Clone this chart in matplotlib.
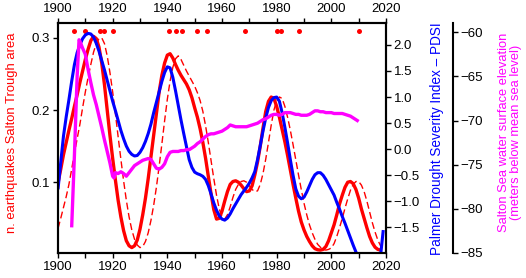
import matplotlib
matplotlib.use("Agg")
import matplotlib.pyplot as plt
from matplotlib.ticker import FixedLocator, FuncFormatter

plt.rcParams['font.family'] = ['Liberation Sans', 'DejaVu Sans']

RED = '#ff0000'
BLUE = '#0000ff'
MAG = '#ff00ff'

# --- red solid: earthquake-area index ---
eq_years = list(range(1900, 2019))
eq_vals = [0.099, 0.118, 0.138, 0.155, 0.172, 0.188, 0.205, 0.221, 0.238, 0.254,
           0.270, 0.284, 0.296, 0.302, 0.299, 0.287, 0.265, 0.235, 0.200, 0.165,
           0.133, 0.103, 0.075, 0.052, 0.033, 0.019, 0.012, 0.0095, 0.012, 0.020,
           0.035, 0.055, 0.078, 0.105, 0.135, 0.165, 0.195, 0.225, 0.248, 0.265,
           0.276, 0.278, 0.272, 0.263, 0.255, 0.248, 0.242, 0.236, 0.228, 0.217,
           0.203, 0.190, 0.174, 0.155, 0.133, 0.108, 0.084, 0.062, 0.049, 0.050,
           0.060, 0.074, 0.087, 0.097, 0.101, 0.102, 0.100, 0.096, 0.091, 0.087,
           0.088, 0.095, 0.110, 0.128, 0.150, 0.175, 0.198, 0.212, 0.218, 0.216,
           0.205, 0.190, 0.173, 0.156, 0.137, 0.117, 0.097, 0.078, 0.060, 0.045,
           0.034, 0.025, 0.018, 0.012, 0.008, 0.0065, 0.006, 0.007, 0.011, 0.019,
           0.030, 0.041, 0.055, 0.070, 0.082, 0.093, 0.100, 0.101, 0.098, 0.090,
           0.078, 0.063, 0.050, 0.037, 0.025, 0.016, 0.010, 0.007, 0.006]

# --- red dashed: lagged index ---
lag_years = list(range(1900, 2021))
lag_vals = [0.036, 0.050, 0.065, 0.080, 0.097, 0.118, 0.140, 0.160, 0.180, 0.203,
            0.225, 0.245, 0.263, 0.280, 0.292, 0.299, 0.300, 0.292, 0.275, 0.252,
            0.225, 0.195, 0.163, 0.132, 0.102, 0.075, 0.052, 0.034, 0.021, 0.013,
            0.0095, 0.011, 0.018, 0.030, 0.047, 0.068, 0.093, 0.122, 0.153, 0.185,
            0.215, 0.240, 0.259, 0.271, 0.275, 0.270, 0.262, 0.254, 0.247, 0.240,
            0.233, 0.224, 0.213, 0.198, 0.178, 0.155, 0.130, 0.105, 0.082, 0.063,
            0.052, 0.049, 0.055, 0.066, 0.079, 0.090, 0.097, 0.101, 0.102, 0.100,
            0.095, 0.090, 0.087, 0.088, 0.097, 0.112, 0.132, 0.155, 0.179, 0.200,
            0.213, 0.218, 0.216, 0.205, 0.190, 0.172, 0.152, 0.131, 0.110, 0.090,
            0.071, 0.055, 0.041, 0.030, 0.021, 0.014, 0.010, 0.007, 0.006, 0.007,
            0.009, 0.015, 0.025, 0.037, 0.050, 0.064, 0.077, 0.089, 0.097, 0.101,
            0.101, 0.096, 0.087, 0.074, 0.059, 0.044, 0.031, 0.020, 0.012, 0.008,
            0.006]

# --- blue: PDSI ---
pdsi_years = list(range(1900, 2011)) + [2012, 2014, 2016, 2017, 2018, 2019]
pdsi_vals = [-0.77, -0.25, 0.25, 0.62, 0.95, 1.30, 1.62, 1.85, 2.00, 2.12,
             2.19, 2.22, 2.21, 2.15, 2.03, 1.88, 1.70, 1.52, 1.32, 1.12,
             0.92, 0.74, 0.55, 0.36, 0.20, 0.06, -0.04, -0.10, -0.13, -0.12,
             -0.06, 0.03, 0.15, 0.30, 0.48, 0.70, 0.90, 1.10, 1.30, 1.47,
             1.58, 1.56, 1.38, 1.12, 0.84, 0.56, 0.30, 0.05, -0.20, -0.35,
             -0.44, -0.47, -0.49, -0.52, -0.58, -0.70, -0.86, -1.03, -1.17, -1.28,
             -1.34, -1.36, -1.32, -1.24, -1.14, -1.05, -0.96, -0.87, -0.80, -0.73,
             -0.65, -0.55, -0.43, -0.20, 0.07, 0.35, 0.60, 0.80, 0.93, 0.99,
             1.00, 0.92, 0.70, 0.42, 0.12, -0.20, -0.50, -0.76, -0.90, -0.95,
             -0.92, -0.82, -0.70, -0.58, -0.49, -0.45, -0.45, -0.50, -0.58, -0.68,
             -0.78, -0.88, -1.02, -1.15, -1.29, -1.42, -1.56, -1.70, -1.84, -1.97,
             -2.10, -2.35, -2.50, -2.45, -2.30, -2.05, -1.55]

# --- magenta: Salton Sea elevation ---
sea_years = [1905, 1906, 1907, 1907.7, 1908, 1909, 1910, 1911, 1912, 1913, 1914,
             1915, 1916, 1917, 1918, 1919, 1920, 1920.5] + list(range(1921, 2011))
sea_vals = [-82.1, -74.0, -65.0, -60.85, -61.0, -61.8, -62.5, -64.2, -65.7, -67.1, -68.2,
            -69.5, -70.8, -72.2, -73.5, -74.8, -76.3, -76.5,
            -75.9, -76.0, -75.8, -76.0, -76.3, -75.9, -75.5, -75.1, -74.9,
            -74.7, -74.5, -74.4, -74.3, -74.4, -74.9, -75.4, -75.5, -75.3, -74.9,
            -74.1, -73.6, -73.5, -73.5, -73.5, -73.4, -73.4, -73.3, -73.3, -73.1,
            -72.9, -72.6, -72.4, -72.1, -71.8, -71.6, -71.5, -71.5, -71.4, -71.3,
            -71.2, -71.0, -70.8, -70.5, -70.6, -70.7, -70.7, -70.7, -70.7, -70.7,
            -70.6, -70.5, -70.4, -70.3, -70.1, -69.9, -69.8, -69.6, -69.4, -69.3,
            -69.3, -69.4, -69.3, -69.1, -69.1, -69.1, -69.2, -69.3, -69.3, -69.4,
            -69.4, -69.4, -69.3, -69.1, -68.9, -68.9, -69.0, -69.0, -69.1, -69.1,
            -69.1, -69.2, -69.2, -69.2, -69.2, -69.3, -69.4, -69.5, -69.7, -69.9,
            -70.1]

# --- earthquake events (dots) ---
event_years = [1906, 1910, 1915.5, 1917, 1920, 1940.5, 1943, 1945.5, 1951, 1954.5,
               1968.5, 1980, 1981.5, 1988, 2010]
event_level = 0.309

xticks = [1900, 1910, 1920, 1930, 1940, 1950, 1960, 1970, 1980, 1990, 2000, 2010, 2020]
pdsi_ticks = [-1.5, -1.0, -0.5, 0.0, 0.5, 1.0, 1.5, 2.0]
eq_ticks = [0.1, 0.2, 0.3]
sea_ticks = [-85, -80, -75, -70, -65, -60]

FS = 9.5
W, H = 526, 278
fig = plt.figure(figsize=(W/100, H/100), dpi=100)
ax = fig.add_axes([58/W, 1-253/H, (386-58)/W, (253-23)/H])
ax2 = ax.twinx()
ax3 = ax.twinx()

ax.plot(lag_years, lag_vals, color=RED, lw=1.0, ls=(0, (5, 2.5)), zorder=2)
ax.plot(eq_years, eq_vals, color=RED, lw=2.4, zorder=3, solid_capstyle='butt')
ax.plot(event_years, [event_level]*len(event_years), 'o', color=RED, ms=3.6,
        mec='none', zorder=4)
ax2.plot(pdsi_years, pdsi_vals, color=BLUE, lw=2.2, solid_capstyle='butt')
ax3.plot(sea_years, sea_vals, color=MAG, lw=2.4, solid_capstyle='butt')

ax.set_xlim(1900, 2020)
ax.set_ylim(0.002, 0.3205)
ax2.set_ylim(-1.99, 2.42)
ax3.set_ylim(-85, -58.95)

ax.xaxis.set_major_locator(FixedLocator(xticks))
ax.xaxis.set_major_formatter(FuncFormatter(lambda v, p: f"{int(round(v))}" if int(round(v)) % 20 == 0 else ""))
ax.tick_params(axis='x', top=True, labeltop=True, direction='out', length=3.5, width=1,
               labelsize=FS, pad=2)
ax.yaxis.set_major_locator(FixedLocator(eq_ticks))
ax.yaxis.set_major_formatter(FuncFormatter(lambda v, p: f"{v:.1f}"))
ax.tick_params(axis='y', direction='out', length=3.5, width=1, labelsize=FS, pad=2)

ax2.yaxis.set_major_locator(FixedLocator(pdsi_ticks))
ax2.yaxis.set_major_formatter(FuncFormatter(lambda v, p: f"{v:.1f}".replace('-', '\u2212')))
ax2.tick_params(axis='y', direction='out', length=3.5, width=1, labelsize=FS, pad=2)

ax3.spines['right'].set_position(('outward', 48))
ax3.yaxis.set_major_locator(FixedLocator(sea_ticks))
ax3.yaxis.set_major_formatter(FuncFormatter(lambda v, p: f"{int(v)}".replace('-', '\u2212')))
ax3.tick_params(axis='y', direction='out', length=3.5, width=1, labelsize=FS, pad=2)
for s in ['top', 'bottom', 'left']:
    ax3.spines[s].set_visible(False)
ax3.spines['right'].set_linewidth(1.5)

for a in (ax, ax2):
    for s in a.spines.values():
        s.set_linewidth(1.5)

fig.text(11.7/W, 1-133/H, "n. earthquakes Salton Trough area", color=RED, fontsize=9.4,
         rotation=90, ha='center', va='center')
fig.text(436.7/W, 1-138.5/H, "Palmer Drought Severity Index \u2013 PDSI", color=BLUE,
         fontsize=9.8, rotation=90, ha='center', va='center')
fig.text(510/W, 1-132.5/H, "Salton Sea water surface elevation\n(meters below mean sea level)",
         color=MAG, fontsize=9.3, rotation=90, ha='center', va='center',
         multialignment='center', linespacing=0.95)

fig.savefig("out.png", dpi=100)
